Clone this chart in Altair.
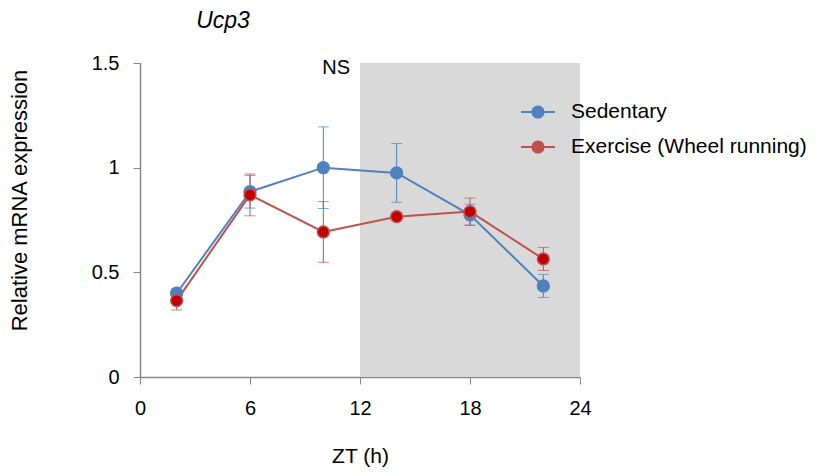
import altair as alt
import pandas as pd

zt = [2, 6, 10, 14, 18, 22]
sed_mean = [0.40, 0.885, 1.00, 0.975, 0.775, 0.435]
sed_err = [0.02, 0.078, 0.195, 0.14, 0.05, 0.055]
ex_mean = [0.365, 0.87, 0.693, 0.766, 0.79, 0.564]
ex_err = [0.045, 0.10, 0.145, 0.02, 0.065, 0.055]
series_names = ["Sedentary", "Exercise (Wheel running)"]
dark_start, dark_end = 12, 24
x_ticks = [0, 6, 12, 18, 24]
y_ticks = [0, 0.5, 1, 1.5]

rows = []
for name, means, errs in [(series_names[0], sed_mean, sed_err), (series_names[1], ex_mean, ex_err)]:
    for t, m, e in zip(zt, means, errs):
        rows.append({"zt": t, "value": m, "lo": m - e, "hi": m + e, "series": name})
df = pd.DataFrame(rows)

band = pd.DataFrame({"x": [dark_start], "x2": [dark_end], "y": [0], "y2": [1.5]})
ns = pd.DataFrame({"x": [10.7], "y": [1.475], "label": ["NS"]})

FONT = "Liberation Sans"
line_colors = ["#4F81BD", "#C0504D"]
point_fills = ["#4F81BD", "#C00000"]

xscale = alt.Scale(domain=[0, 24], nice=False, zero=False)
yscale = alt.Scale(domain=[0, 1.5], nice=False)

xaxis = alt.Axis(values=x_ticks, title="ZT (h)", grid=False, domainColor="#868686",
                 tickColor="#868686", tickSize=7, labelFontSize=20, titleFontSize=21,
                 labelFont=FONT, titleFont=FONT, labelColor="black", titleColor="black",
                 titleFontWeight="normal", labelPadding=14, titlePadding=27,
                 labelFlush=False)
yaxis = alt.Axis(values=y_ticks, title="Relative mRNA expression", grid=False,
                 domainColor="#868686", tickColor="#868686", tickSize=7,
                 labelFontSize=20, titleFontSize=22, labelFont=FONT, titleFont=FONT,
                 labelColor="black", titleColor="black", titleFontWeight="normal",
                 labelPadding=14, titlePadding=60, titleY=137,
                 labelExpr="datum.value == 0 ? '0' : format(datum.value, '~g')")

stroke_scale = alt.Scale(domain=series_names, range=line_colors)
fill_scale = alt.Scale(domain=series_names, range=point_fills)


def ring(r):
    return f"M-{r},0A{r},{r},0,1,0,{r},0A{r},{r},0,1,0,-{r},0"


legend_symbol = "M-1,0L1,0" + "".join(ring(r) for r in [0.05, 0.13, 0.21, 0.29, 0.33])

legend = alt.Legend(title=None, orient="none", legendX=380, legendY=31,
                    symbolType=legend_symbol, symbolSize=1156, symbolStrokeWidth=2,
                    labelFontSize=21, labelFont=FONT, labelColor="black",
                    labelOffset=15, rowPadding=7, padding=0, labelLimit=0)

rect = alt.Chart(band).mark_rect(color="#D9D9D9").encode(
    x=alt.X("x:Q", scale=xscale, axis=xaxis), x2="x2:Q",
    y=alt.Y("y:Q", scale=yscale, axis=yaxis), y2="y2:Q")

base = alt.Chart(df)

rules = base.mark_rule(strokeWidth=1).encode(
    x=alt.X("zt:Q", scale=xscale), y=alt.Y("lo:Q", scale=yscale), y2="hi:Q",
    stroke=alt.Stroke("series:N", scale=stroke_scale, legend=legend, sort=series_names))
caps_lo = base.mark_tick(orient="horizontal", size=11, thickness=1).encode(
    x=alt.X("zt:Q", scale=xscale), y=alt.Y("lo:Q", scale=yscale),
    color=alt.Color("series:N", scale=stroke_scale, legend=None))
caps_hi = base.mark_tick(orient="horizontal", size=11, thickness=1).encode(
    x=alt.X("zt:Q", scale=xscale), y=alt.Y("hi:Q", scale=yscale),
    color=alt.Color("series:N", scale=stroke_scale, legend=None))

lines = base.mark_line(strokeWidth=2).encode(
    x=alt.X("zt:Q", scale=xscale), y=alt.Y("value:Q", scale=yscale),
    stroke=alt.Stroke("series:N", scale=stroke_scale, legend=legend,
                      sort=series_names),
    detail="series:N")

points = base.mark_point(filled=True, size=140, strokeWidth=1.5, opacity=1).encode(
    x=alt.X("zt:Q", scale=xscale), y=alt.Y("value:Q", scale=yscale),
    fill=alt.Fill("series:N", scale=fill_scale, legend=None),
    stroke=alt.Stroke("series:N", scale=stroke_scale, legend=legend, sort=series_names))

ns_text = alt.Chart(ns).mark_text(fontSize=20, font=FONT, color="black", baseline="middle").encode(
    x=alt.X("x:Q", scale=xscale), y=alt.Y("y:Q", scale=yscale), text="label:N")

chart = alt.layer(rect, rules, caps_lo, caps_hi, lines, points, ns_text).properties(
    width=440, height=314,
    title=alt.TitleParams("Ucp3", anchor="start", dx=188, fontSize=23, font=FONT,
                          fontStyle="italic", fontWeight="normal", color="black",
                          offset=20),
    autosize=alt.AutoSizeParams(type="none"),
    padding={"left": 132, "top": 55, "right": 231, "bottom": 95}
).configure_view(stroke=None).configure_axis(domainWidth=1.5)

chart.save("out.html", embed_options={"renderer": "svg", "actions": False})
